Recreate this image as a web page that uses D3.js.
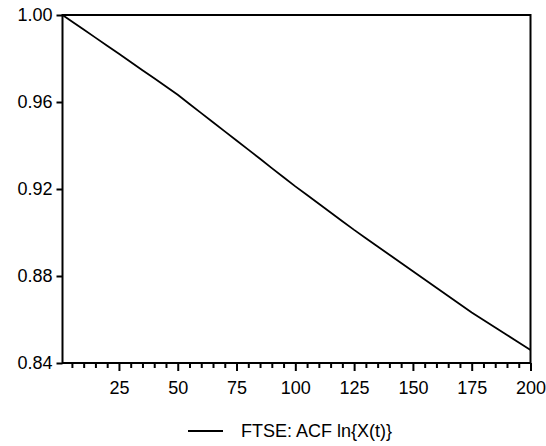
<!DOCTYPE html>
<html>
<head>
<meta charset="utf-8">
<script src="https://cdn.jsdelivr.net/npm/d3@7"></script>
<style>
  body { margin: 0; background: #fff; }
  text { font-family: "Liberation Sans", Arial, sans-serif; fill: #000; }
</style>
</head>
<body>
<div id="chart"></div>
<script>
// Data: ACF of ln X(t), every 5 lags
const lags = [1, 5, 10, 15, 20, 25, 30, 35, 40, 45, 50, 55, 60, 65, 70, 75, 80, 85, 90, 95, 100,
  105, 110, 115, 120, 125, 130, 135, 140, 145, 150, 155, 160, 165, 170, 175, 180, 185, 190, 195, 200];
const acf = [1.0000, 0.9970, 0.9933, 0.9896, 0.9859, 0.9822, 0.9784, 0.9746, 0.9709, 0.9671, 0.9633,
  0.9591, 0.9549, 0.9507, 0.9465, 0.9423, 0.9381, 0.9339, 0.9296, 0.9254, 0.9212,
  0.9172, 0.9132, 0.9092, 0.9052, 0.9012, 0.8974, 0.8936, 0.8898, 0.8860, 0.8822,
  0.8784, 0.8746, 0.8708, 0.8670, 0.8632, 0.8598, 0.8563, 0.8529, 0.8494, 0.8460];
const xTicks = [25, 50, 75, 100, 125, 150, 175, 200];
const yTicks = [0.84, 0.88, 0.92, 0.96, 1.00];
const seriesName = 'FTSE: ACF ln{X(t)}';

const width  = 546;
const height = 446;
const plotL = 62.5, plotR = 530.5, plotT = 15, plotB = 363;

const svg = d3.select('#chart')
  .append('svg')
    .attr('width', width)
    .attr('height', height);

const x = d3.scaleLinear().domain([1, 200]).range([plotL, plotR]);
const y = d3.scaleLinear().domain([0.84, 1.00]).range([plotB, plotT]);

// minor ticks every 5 lags
const minor = d3.range(5, 200, 5).filter(v => !xTicks.includes(v));
svg.append('g')
    .attr('transform', `translate(0,${plotB})`)
    .call(d3.axisBottom(x).tickValues(minor).tickSize(5).tickFormat(''))
    .call(g => g.select('.domain').remove())
    .call(g => g.selectAll('line').attr('stroke-width', 2));

// x axis
svg.append('g')
    .attr('transform', `translate(0,${plotB})`)
    .call(d3.axisBottom(x).tickValues(xTicks).tickSize(8).tickPadding(10))
    .call(g => g.select('.domain').remove())
    .call(g => g.selectAll('line').attr('stroke-width', 2))
    .call(g => g.selectAll('text').attr('font-size', 18));

// y axis
svg.append('g')
    .attr('transform', `translate(${plotL},0)`)
    .call(d3.axisLeft(y).tickValues(yTicks).tickSize(6).tickPadding(4).tickFormat(d3.format('.2f')))
    .call(g => g.select('.domain').remove())
    .call(g => g.selectAll('line').attr('stroke-width', 2))
    .call(g => g.selectAll('text').attr('font-size', 18));

// frame
svg.append('rect')
    .attr('x', plotL)
    .attr('y', plotT)
    .attr('width', plotR - plotL)
    .attr('height', plotB - plotT)
    .attr('fill', 'none')
    .attr('stroke', '#000')
    .attr('stroke-width', 2);

// series line
const line = d3.line()
  .x((d, i) => x(lags[i]))
  .y(d => y(d));

svg.append('path')
    .datum(acf)
    .attr('fill', 'none')
    .attr('stroke', '#000')
    .attr('stroke-width', 1.8)
    .attr('d', line);

// legend
const legend = svg.append('g').attr('transform', 'translate(188,431)');
legend.append('line')
    .attr('x1', 0).attr('x2', 35)
    .attr('stroke', '#000')
    .attr('stroke-width', 1.8);
legend.append('text')
    .attr('x', 53)
    .attr('dy', '0.35em')
    .attr('font-size', 18)
    .text(seriesName);
</script>
</body>
</html>
